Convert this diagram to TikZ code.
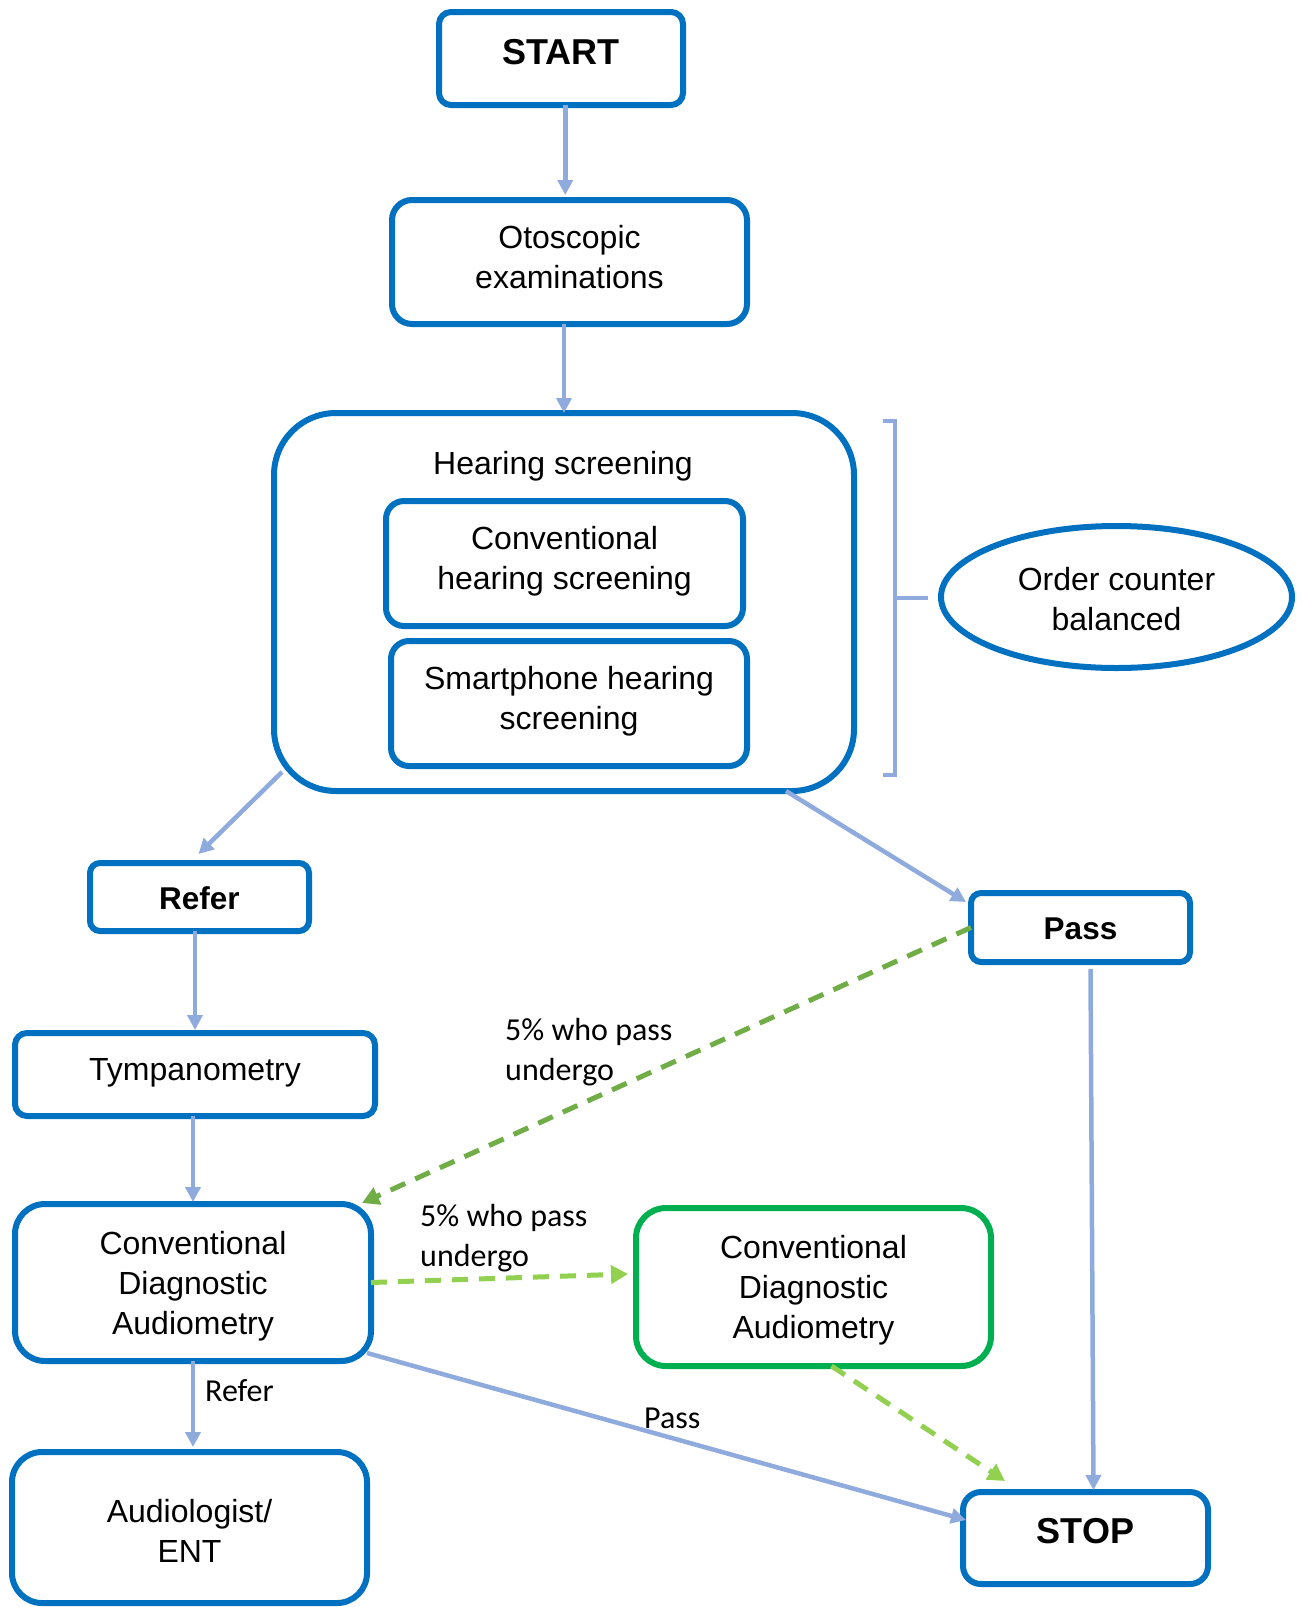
\documentclass[tikz,border=0pt]{standalone}
\usepackage{fontspec}
\setmainfont{Liberation Sans}
\newfontfamily\calib{Carlito}
\usetikzlibrary{arrows.meta,calc,shapes.geometric}
\definecolor{boxblue}{HTML}{0070C0}
\definecolor{arrblue}{HTML}{8FAADC}
\definecolor{dgreen}{HTML}{70AD47}
\definecolor{lgreen}{HTML}{92D050}
\definecolor{boxgreen}{HTML}{00B050}
\begin{document}
\begin{tikzpicture}[x=1pt,y=-1pt,
  box/.style={draw=boxblue,line width=6pt,rounded corners=#1,inner sep=0pt,outer sep=0pt},
  box/.default=14pt,
  txt/.style={align=center,font=\fontsize{32}{40}\selectfont,inner sep=0pt},
  bold/.style={font=\fontsize{36}{44}\selectfont\bfseries,inner sep=0pt},
  boldsm/.style={font=\fontsize{31.5}{40}\selectfont\bfseries,inner sep=0pt},
  lab/.style={font=\calib\fontsize{32}{40}\selectfont,align=left,inner sep=0pt,anchor=west},
  barr/.style={draw=arrblue,line width=4.5pt,-{Triangle[length=15pt,width=15pt]}},
  brk/.style={draw=arrblue,line width=4.5pt},
  gdash/.style={line width=5pt,dash pattern=on 16pt off 11pt}]
\useasboundingbox (0,0) rectangle (1303,1607);

% boxes
\node[box=12pt,minimum width=244pt,minimum height=93pt] (start) at (561,58.5) {};
\node[box=20pt,minimum width=355pt,minimum height=124pt] (oto) at (569.5,262) {};
\node[box=62pt,minimum width=580pt,minimum height=378pt] (hear) at (564,602) {};
\node[box=18pt,minimum width=357pt,minimum height=125pt] (chs) at (564.5,563.5) {};
\node[box=18pt,minimum width=356pt,minimum height=125pt] (shs) at (569,703.5) {};
\node[ellipse,draw=boxblue,line width=6pt,minimum width=351pt,minimum height=142pt,inner sep=0pt] (order) at (1116.5,597) {};
\node[box=10pt,minimum width=219pt,minimum height=68pt] (refer) at (199.5,897) {};
\node[box=10pt,minimum width=219pt,minimum height=69pt] (pass) at (1080.5,927.5) {};
\node[box=12pt,minimum width=360pt,minimum height=83pt] (tymp) at (195,1074.5) {};
\node[box=30pt,minimum width=356pt,minimum height=157pt] (cda) at (193,1282.5) {};
\node[box=30pt,draw=boxgreen,minimum width=355pt,minimum height=158pt] (cdag) at (813.5,1287) {};
\node[box=30pt,minimum width=355pt,minimum height=151pt] (aud) at (189.5,1527.5) {};
\node[box=18pt,minimum width=245pt,minimum height=92pt] (stop) at (1085.5,1538) {};

% texts
\node[bold] (startt) at (561,52.5) {START};
\node[txt] (otot) at (569.5,257) {Otoscopic\\examinations};
\node[txt] (heart) at (563,466) {Hearing screening};
\node[txt] (chst) at (564.5,561.5) {Conventional\\hearing screening};
\node[txt] (shst) at (569,701.5) {Smartphone hearing\\screening};
\node[txt] (ordert) at (1116.5,599) {Order counter\\balanced};
\node[boldsm] (refert) at (199.5,898) {Refer};
\node[boldsm] (passt) at (1080.5,928.5) {Pass};
\node[txt] (tympt) at (195,1072.5) {Tympanometry};
\node[txt] (cdat) at (193,1286.5) {Conventional\\Diagnostic\\Audiometry};
\node[txt] (cdagt) at (813.5,1290) {Conventional\\Diagnostic\\Audiometry};
\node[txt] (audt) at (189.5,1530.5) {Audiologist/\\ENT};
\node[bold] (stopt) at (1085.5,1531) {STOP};

% labels
\node[lab] (l1) at (505,1052) {5\% who pass\\undergo};
\node[lab] (l2) at (420,1238.5) {5\% who pass\\undergo};
\node[lab] (l3) at (205,1391) {Refer};
\node[lab] (l4) at (644,1418) {Pass};

% bracket
\coordinate (bt) at (883,421);
\coordinate (bb) at (883,775);
\coordinate (bm) at (895,598);
\draw[brk] (bt) -- ++(12,0) -- ($(bb)+(12,0)$) -- (bb);
\draw[brk] (bm) -- ($(order.west)+(-10,1)$);

% connectors
\coordinate (a1) at ($(start.south)!0.5!(start.south -| oto.north)$);
\draw[barr,shorten >=5pt] (a1) -- (a1 |- oto.north);
\draw[barr] (hear.north |- oto.south) -- (hear.north);
\draw[barr] ($(hear.south west)+(8,-19)$) -- ($(refer.north)+(-1,-9)$);
\draw[barr] ($(hear.south)+(222,0)$) -- ($(pass.north west)+(-5,9)$);
\draw[barr,shorten >=3pt] (tymp.north |- refer.south) -- (tymp.north);
\draw[barr,shorten >=2pt] (cda.north |- tymp.south) -- (cda.north);
\draw[barr,shorten >=5pt] (cda.south) -- (cda.south |- aud.north);
\draw[barr] ($(cda.south east)+(-4,-8)$) -- ($(stop.west)+(3,-18)$);
\draw[barr] ($(pass.south)+(10,7)$) -- ($(stop.north)+(8,-2)$);
\draw[gdash,draw=dgreen,-{Triangle[length=17pt,width=18pt,fill=dgreen]}] (pass.west) -- ($(cda.north east)+(-9,-1)$);
\draw[gdash,draw=lgreen,-{Triangle[length=17pt,width=18pt,fill=lgreen]}] (cda.east) -- ($(cdag.west)+(-8,-13)$);
\draw[gdash,draw=lgreen,-{Triangle[length=17pt,width=18pt,fill=lgreen]}] ($(cdag.south)+(18,0)$) -- ($(stop.north west)+(42,-11)$);
\end{tikzpicture}
\end{document}
